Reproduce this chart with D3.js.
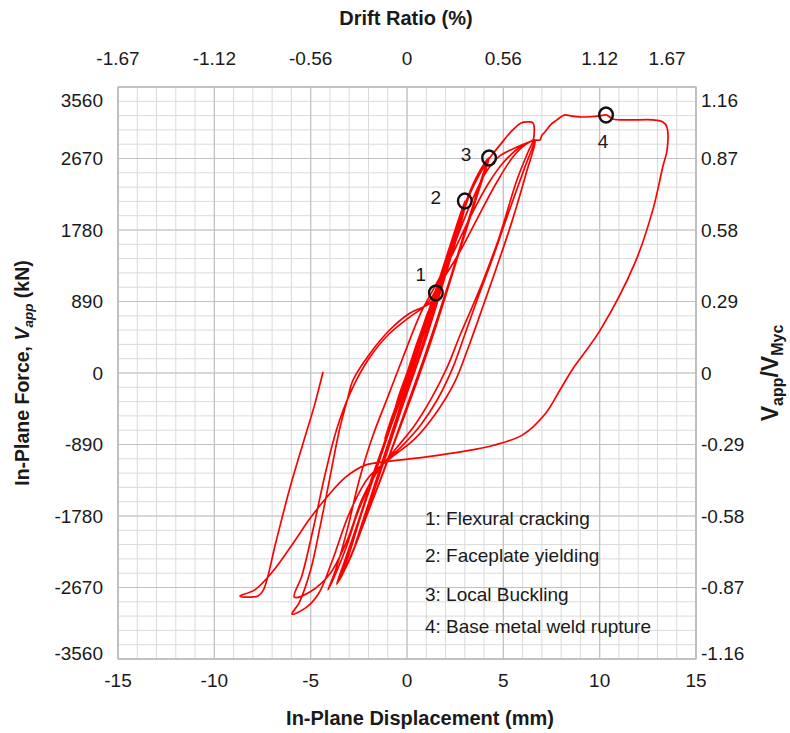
<!DOCTYPE html>
<html>
<head>
<meta charset="utf-8">
<script src="https://cdn.jsdelivr.net/npm/d3@7"></script>
<style>
  html, body { margin: 0; padding: 0; background: #fff; }
  svg { display: block; font-family: Arial, "Liberation Sans", sans-serif; }
</style>
</head>
<body>
<svg id="chart" width="790" height="733"></svg>
<script>
// Axis ticks
const dispTicks = [-15, -10, -5, 0, 5, 10, 15];
const driftLabels = ["-1.67", "-1.12", "-0.56", "0", "0.56", "1.12", "1.67"];
const driftTicks = [-15, -10, -5, 0, 5, 10, 13.5];
const forceTicks = [3560, 2670, 1780, 890, 0, -890, -1780, -2670, -3560];
const ratioLabels = ["1.16", "0.87", "0.58", "0.29", "0", "-0.29", "-0.58", "-0.87", "-1.16"];

// Recorded load path: [in-plane displacement (mm), in-plane force (kN)]
const smallCycles = [
  [0,0],[0.25,180],[0.5,360],[0.3,200],[0.0,-20],[-0.3,-230],[-0.55,-400],[-0.3,-200],[0.02,10],
  [0.3,200],[0.55,390],[0.3,190],[-0.02,-30],[-0.3,-220],[-0.6,-420],[-0.35,-230],[0.0,0],
  [0.5,360],[0.8,560],[1.05,740],[0.75,500],[0.3,160],[-0.1,-90],[-0.6,-430],[-1.1,-780],[-0.8,-560],[-0.3,-230],[0.1,60],
  [0.6,420],[1.1,770],[0.8,540],[0.35,200],[-0.1,-100],[-0.65,-470],[-1.15,-820],[-0.85,-600],[-0.35,-270],[0.05,30]
];
const crackingCycles = [
  [0.6,420],[1.1,760],[1.5,996],[1.2,780],[0.7,420],[0.2,80],[-0.3,-260],[-0.9,-680],[-1.5,-1100],[-1.9,-1380],[-1.55,-1120],[-1.0,-770],[-0.4,-380],[0.1,-40],
  [0.7,460],[1.2,820],[1.55,1020],[1.25,790],[0.8,470],[0.25,90],[-0.3,-270],[-1.0,-740],[-1.6,-1170],[-2.0,-1420],[-1.6,-1150],[-1.0,-750],[-0.4,-340],[0.1,0]
];
const yieldingCycles = [
  [0.8,540],[1.5,1040],[2.2,1560],[3.0,2141],[2.7,1850],[2.2,1420],[1.6,960],[1.0,500],[0.4,60],[-0.2,-380],[-0.9,-880],[-1.6,-1380],[-2.2,-1820],[-2.7,-2150],[-2.3,-1880],[-1.7,-1450],[-1.1,-1000],[-0.5,-550],[0.1,-100],
  [0.8,430],[1.6,1020],[2.3,1580],[3.05,2120],[2.75,1820],[2.2,1380],[1.6,900],[1.0,440],[0.4,20],[-0.3,-460],[-1.0,-960],[-1.7,-1460],[-2.3,-1900],[-2.8,-2220],[-2.4,-1920],[-1.8,-1480],[-1.2,-1040],[-0.6,-600],[0.0,-150]
];
const bucklingCycles = [
  [0.7,380],[1.5,980],[2.3,1600],[3.1,2160],[3.7,2480],[4.26,2677],[3.9,2400],[3.3,1950],[2.6,1420],[1.9,880],[1.2,360],[0.5,-120],[-0.3,-640],[-1.1,-1150],[-1.9,-1650],[-2.6,-2100],[-3.1,-2380],[-3.4,-2520],[-3.0,-2250],[-2.4,-1780],[-1.7,-1280],[-1.0,-780],[-0.3,-280],[0.4,180],
  [1.2,760],[2.0,1360],[2.8,1940],[3.5,2380],[4.2,2650],[3.85,2380],[3.2,1900],[2.5,1360],[1.8,840],[1.1,320],[0.4,-160],[-0.4,-700],[-1.2,-1220],[-2.0,-1720],[-2.7,-2150],[-3.2,-2430],[-3.5,-2580],[-3.1,-2300],[-2.5,-1850],[-1.8,-1330],[-1.1,-830],[-0.4,-320],[0.3,140],
  [1.0,560],[1.8,1180],[2.6,1780],[3.4,2300],[4.1,2600],[3.7,2300],[3.0,1760],[2.3,1220],[1.6,700],[0.9,200],[0.1,-340],[-0.7,-880],[-1.5,-1400],[-2.3,-1900],[-2.9,-2280],[-3.3,-2480],[-3.65,-2630],[-3.25,-2350],[-2.6,-1900],[-1.9,-1380],[-1.2,-880],[-0.5,-380],[0.2,100]
];
const postBucklingCycles = [
  [1.1,700],[1.9,1300],[2.7,1880],[3.5,2360],[4.3,2680],[4.8,2830],[5.35,2990],[5.9,3110],[6.3,3125],[6.54,3112],[6.56,2900],[6.3,2760],[5.7,2400],[4.8,1700],[4.0,1180],[3.4,830],[2.75,470],[2.1,80],[1.3,-300],[0.4,-650],[-0.6,-950],[-1.6,-1250],[-2.5,-1700],[-3.2,-2200],[-3.8,-2550],[-4.1,-2700],[-3.7,-2450],[-3.1,-1950],[-2.5,-1350],[-1.8,-800],[-1.0,-300],[-0.2,200],[0.7,740],
  [1.5,1100],[2.4,1500],[3.3,1950],[4.2,2350],[5.0,2620],[5.8,2800],[6.4,2880],[6.6,2900],[6.1,2550],[5.2,1950],[4.4,1400],[3.7,950],[3.0,480],[2.4,80],[1.6,-320],[0.7,-650],[-0.3,-920],[-1.3,-1150],[-2.3,-1550],[-3.1,-2080],[-4.0,-2500],[-5.0,-2720],[-5.85,-2790],[-5.45,-2520],[-4.85,-1920],[-4.25,-1260],[-3.65,-700],[-2.95,-250],[-2.0,170],[-1.0,470],[0.1,690],[1.0,850],
  [1.6,1070],[2.6,1450],[3.6,1900],[4.6,2350],[5.6,2720],[6.4,2880],[6.64,2900],[6.2,2500],[5.4,1850],[4.6,1280],[3.9,800],[3.2,330],[2.5,-100],[1.5,-500],[0.4,-820],[-0.8,-1050],[-2.0,-1300],[-3.0,-1750],[-3.9,-2350],[-4.6,-2750],[-5.3,-2930],[-5.97,-3000],[-5.6,-2860],[-5.0,-2450],[-4.5,-1900],[-4.0,-1300],[-3.5,-700],[-3.1,-336],[-2.8,-87],[-1.9,250],[-0.9,535],[0.16,746],[1.2,870],[1.5,996]
];
const ruptureCycle = [
  [2.3,1500],[3.2,2050],[4.1,2500],[4.8,2700],[5.6,2800],[6.4,2880],[6.64,2900],[6.9,2901],[7.0,2960],[7.16,3000],[7.32,3050],[7.5,3100],[7.78,3150],[8.0,3190],[8.2,3212],[8.5,3200],[8.98,3187],[9.5,3190],[10.02,3200],[10.33,3212],[10.69,3162],[11.5,3150],[12.77,3150],[13.28,3125],[13.49,3063],[13.5,2776],[13.28,2570],[12.77,2040],[11.83,1370],[10.02,530],[8.6,50],[7.94,-212],[7.2,-500],[6.0,-770],[4.5,-900],[3.3,-960],[2.0,-1010],[0.5,-1060],[-1.0,-1100],[-2.2,-1150],[-3.2,-1300],[-4.0,-1500],[-5.0,-1800],[-6.0,-2150],[-7.0,-2480],[-7.9,-2700],[-8.67,-2776],[-8.2,-2790],[-7.73,-2776],[-7.45,-2700],[-6.8,-2100],[-6.1,-1450],[-5.3,-800],[-4.8,-400],[-4.36,12]
];
const loadPath = [].concat(smallCycles, crackingCycles, yieldingCycles, bucklingCycles, postBucklingCycles, ruptureCycle);

// Damage milestones
const milestoneIds = ["1", "2", "3", "4"];
const milestoneDisp = [1.5, 3.0, 4.26, 10.33];
const milestoneForce = [996, 2141, 2677, 3212];
const legendItems = ["1: Flexural cracking", "2: Faceplate yielding", "3: Local Buckling", "4: Base metal weld rupture"];

const svg = d3.select("#chart");
const plot = { left: 118, right: 696, top: 87, bottom: 659 };

const x = d3.scaleLinear().domain([-15, 15]).range([plot.left, plot.right]);
const y = d3.scaleLinear().domain([-3560, 3560]).range([plot.bottom, plot.top]);

// Grid: minor every 1 mm / 178 kN, major at labelled ticks
const g = svg.append("g");
const minorX = d3.range(-15, 15.001, 1);
const minorY = d3.range(-3560, 3560.1, 178);
g.selectAll(".mx").data(minorX).join("line")
  .attr("x1", d => x(d)).attr("x2", d => x(d))
  .attr("y1", plot.top).attr("y2", plot.bottom)
  .attr("stroke", "#dadada").attr("stroke-width", 1);
g.selectAll(".my").data(minorY).join("line")
  .attr("y1", d => y(d)).attr("y2", d => y(d))
  .attr("x1", plot.left).attr("x2", plot.right)
  .attr("stroke", "#dadada").attr("stroke-width", 1);
g.selectAll(".MX").data(dispTicks).join("line")
  .attr("x1", d => x(d)).attr("x2", d => x(d))
  .attr("y1", plot.top).attr("y2", plot.bottom)
  .attr("stroke", "#c2c2c2").attr("stroke-width", 1.2);
g.selectAll(".MY").data(forceTicks).join("line")
  .attr("y1", d => y(d)).attr("y2", d => y(d))
  .attr("x1", plot.left).attr("x2", plot.right)
  .attr("stroke", "#c2c2c2").attr("stroke-width", 1.2);
g.append("rect")
  .attr("x", plot.left).attr("y", plot.top)
  .attr("width", plot.right - plot.left).attr("height", plot.bottom - plot.top)
  .attr("fill", "none").attr("stroke", "#b5b5b5").attr("stroke-width", 1.2);

// Hysteresis curve
const line = d3.line().x(d => x(d[0])).y(d => y(d[1])).curve(d3.curveCatmullRom.alpha(0.5));
svg.append("path")
  .datum(loadPath)
  .attr("d", line)
  .attr("fill", "none")
  .attr("stroke", "#ff0000")
  .attr("stroke-width", 1.7)
  .attr("stroke-linejoin", "round");

// Milestone markers
const ms = svg.append("g");
milestoneIds.forEach((id, i) => {
  const cx = x(milestoneDisp[i]), cy = y(milestoneForce[i]);
  ms.append("ellipse")
    .attr("cx", cx).attr("cy", cy).attr("rx", 6.8).attr("ry", 7.5)
    .attr("fill", "none").attr("stroke", "#111").attr("stroke-width", 2.4);
});
const idOffsets = [[-15, -12], [-29, 3], [-23, 3], [-3, 33]];
milestoneIds.forEach((id, i) => {
  ms.append("text")
    .attr("x", x(milestoneDisp[i]) + idOffsets[i][0])
    .attr("y", y(milestoneForce[i]) + idOffsets[i][1])
    .attr("font-size", 19).attr("fill", "#1a1a1a")
    .attr("text-anchor", "middle")
    .text(id);
});

// Tick labels
const tickFont = 19;
const endNudge = v => v === 3560 ? 13 : (v === -3560 ? -6 : 0);
svg.append("g").selectAll("text").data(forceTicks).join("text")
  .attr("x", 103).attr("y", d => y(d) + endNudge(d))
  .attr("dy", "0.36em").attr("text-anchor", "end")
  .attr("font-size", tickFont).attr("fill", "#1a1a1a")
  .text(d => d);
svg.append("g").selectAll("text").data(forceTicks).join("text")
  .attr("x", 701).attr("y", d => y(d) + endNudge(d))
  .attr("dy", "0.36em").attr("text-anchor", "start")
  .attr("font-size", tickFont).attr("fill", "#1a1a1a")
  .text((d, i) => ratioLabels[i]);
svg.append("g").selectAll("text").data(dispTicks).join("text")
  .attr("x", d => x(d)).attr("y", 687)
  .attr("text-anchor", "middle")
  .attr("font-size", tickFont).attr("fill", "#1a1a1a")
  .text(d => d);
svg.append("g").selectAll("text").data(driftTicks).join("text")
  .attr("x", d => x(d)).attr("y", 65)
  .attr("text-anchor", "middle")
  .attr("font-size", tickFont).attr("fill", "#1a1a1a")
  .text((d, i) => driftLabels[i]);

// Axis titles
svg.append("text")
  .attr("x", 406).attr("y", 25).attr("text-anchor", "middle")
  .attr("font-size", 20).attr("font-weight", "bold").attr("fill", "#1a1a1a")
  .text("Drift Ratio (%)");
svg.append("text")
  .attr("x", 420).attr("y", 725).attr("text-anchor", "middle")
  .attr("font-size", 20).attr("font-weight", "bold").attr("fill", "#1a1a1a")
  .text("In-Plane Displacement (mm)");

const leftTitle = svg.append("text")
  .attr("transform", "translate(29,373) rotate(-90)")
  .attr("text-anchor", "middle")
  .attr("font-size", 19.5).attr("font-weight", "bold").attr("fill", "#1a1a1a");
leftTitle.append("tspan").text("In-Plane Force, ");
leftTitle.append("tspan").attr("font-style", "italic").text("V");
leftTitle.append("tspan").attr("font-style", "italic").attr("font-size", 13.5).attr("dy", 4).text("app");
leftTitle.append("tspan").attr("dy", -4).text(" (kN)");

const rightTitle = svg.append("text")
  .attr("transform", "translate(778,373) rotate(-90)")
  .attr("text-anchor", "middle")
  .attr("font-size", 23).attr("font-weight", "bold").attr("fill", "#1a1a1a");
rightTitle.append("tspan").text("V");
rightTitle.append("tspan").attr("font-size", 16).attr("dy", 5).text("app");
rightTitle.append("tspan").attr("dy", -5).text("/V");
rightTitle.append("tspan").attr("font-size", 16).attr("dy", 5).text("Myc");

// Milestone legend
svg.append("g").selectAll("text").data(legendItems).join("text")
  .attr("x", 425)
  .attr("y", (d, i) => [525, 562, 601, 633][i])
  .attr("font-size", 19).attr("fill", "#1a1a1a")
  .text(d => d);
</script>
</body>
</html>
